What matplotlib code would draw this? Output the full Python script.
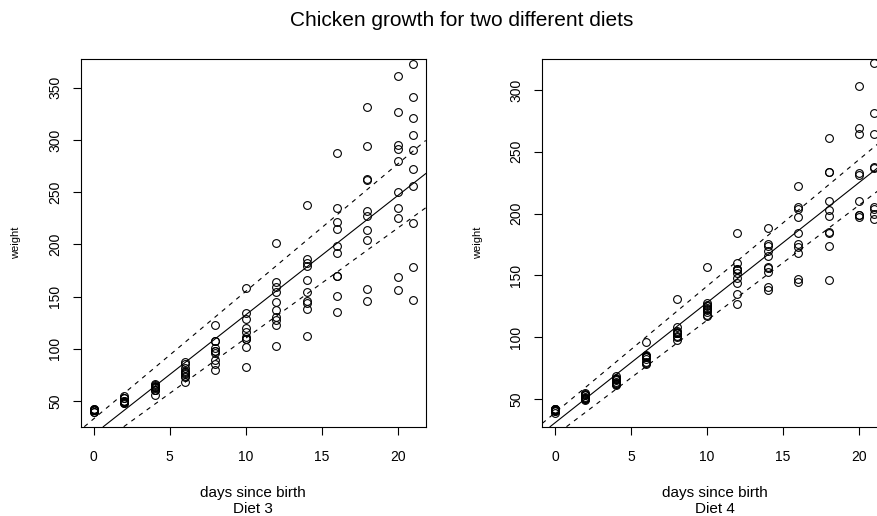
import numpy as np
import matplotlib
matplotlib.use('Agg')
import matplotlib.pyplot as plt

plt.rcParams['font.family'] = ['Liberation Sans', 'DejaVu Sans']

# ChickWeight: weight at each day, one row per chick
time = [0, 2, 4, 6, 8, 10, 12, 14, 16, 18, 20, 21]
diet3 = [
    [42, 53, 62, 73, 85, 102, 123, 138, 170, 204, 235, 256],
    [41, 49, 65, 82, 107, 129, 159, 179, 221, 263, 291, 305],
    [39, 50, 63, 77, 96, 111, 137, 144, 151, 146, 156, 147],
    [41, 49, 63, 85, 107, 134, 164, 186, 235, 294, 327, 341],
    [41, 53, 64, 87, 123, 158, 201, 238, 287, 332, 361, 373],
    [39, 48, 61, 76, 98, 116, 145, 166, 198, 227, 225, 220],
    [41, 48, 56, 68, 80, 83, 103, 112, 135, 157, 169, 178],
    [41, 49, 61, 74, 98, 109, 128, 154, 192, 232, 280, 290],
    [42, 50, 61, 78, 89, 109, 130, 146, 170, 214, 250, 272],
    [41, 55, 66, 79, 101, 120, 154, 182, 215, 262, 295, 321],
]
diet4 = [
    [42, 51, 66, 85, 103, 124, 155, 153, 175, 184, 199, 204],
    [42, 49, 63, 84, 103, 126, 160, 174, 204, 234, 269, 281],
    [42, 55, 69, 96, 131, 157, 184, 188, 197, 198, 199, 200],
    [42, 51, 65, 86, 103, 118, 127, 138, 145, 146],
    [41, 50, 61, 78, 98, 117, 135, 141, 147, 174, 197, 196],
    [40, 52, 62, 82, 101, 120, 144, 156, 173, 210, 231, 238],
    [41, 53, 66, 79, 100, 123, 148, 157, 168, 185, 210, 205],
    [39, 50, 62, 80, 104, 125, 154, 170, 222, 261, 303, 322],
    [40, 53, 64, 85, 108, 128, 152, 166, 184, 203, 233, 237],
    [41, 54, 67, 84, 105, 122, 155, 175, 205, 234, 264, 264],
]
# dashed lines: (intercept, slope)
bands3 = [(33.0, 12.2), (4.6, 10.55)]
bands4 = [(38.9, 10.24), (20.6, 9.31)]

W, H = 877, 516
# left edge of each plot box in pixels (the right panel runs past the image edge)
panels = [
    ('Diet 3', diet3, bands3, 81.0, (25.4, 377.2), [50, 100, 150, 200, 250, 300, 350]),
    ('Diet 4', diet4, bands4, 542.3, (27.6, 324.8), [50, 100, 150, 200, 250, 300]),
]
box_w, box_top, box_bot = 344.7, 59.3, 426.7

fig = plt.figure(figsize=(W / 100, H / 100), dpi=100)
for name, chicks, bands, x0, ylim, yt in panels:
    ax = fig.add_axes([x0 / W, 1 - box_bot / H, box_w / W, (box_bot - box_top) / H])
    x = np.concatenate([time[:len(c)] for c in chicks])
    y = np.concatenate(chicks)
    ax.plot(x, y, 'o', mfc='none', mec='black', ms=5.6, mew=0.8)
    m, b = np.polyfit(x, y, 1)
    ax.axline((0, b), slope=m, color='black', lw=0.8)
    for bb, mm in bands:
        ax.axline((0, bb), slope=mm, color='black', lw=0.8, dashes=(4, 4.5))
    ax.set_xlim(-0.84, 21.84)
    ax.set_ylim(*ylim)
    ax.set_xticks([0, 5, 10, 15, 20])
    ax.set_yticks(yt)
    ax.tick_params(direction='out', length=6, width=0.8, labelsize=10)
    ax.tick_params(axis='x', pad=10.5)
    ax.tick_params(axis='y', pad=7.6, labelrotation=90)
    for lab in ax.get_yticklabels():
        lab.set_va('center')
    for s in ax.spines.values():
        s.set_linewidth(0.8)
    cx = x0 + box_w / 2
    fig.text(cx / W, 1 - 497 / H, 'days since birth', ha='center', va='baseline', fontsize=11)
    fig.text(cx / W, 1 - 513 / H, name, ha='center', va='baseline', fontsize=11)
    fig.text((x0 - 61.5) / W, 1 - 243 / H, 'weight', rotation=90, rotation_mode='anchor',
             ha='center', va='baseline', fontsize=8)

fig.text(461.3 / W, 1 - 26.5 / H, 'Chicken growth for two different diets', ha='center', va='baseline', fontsize=15)
fig.savefig('out.png', dpi=100)
